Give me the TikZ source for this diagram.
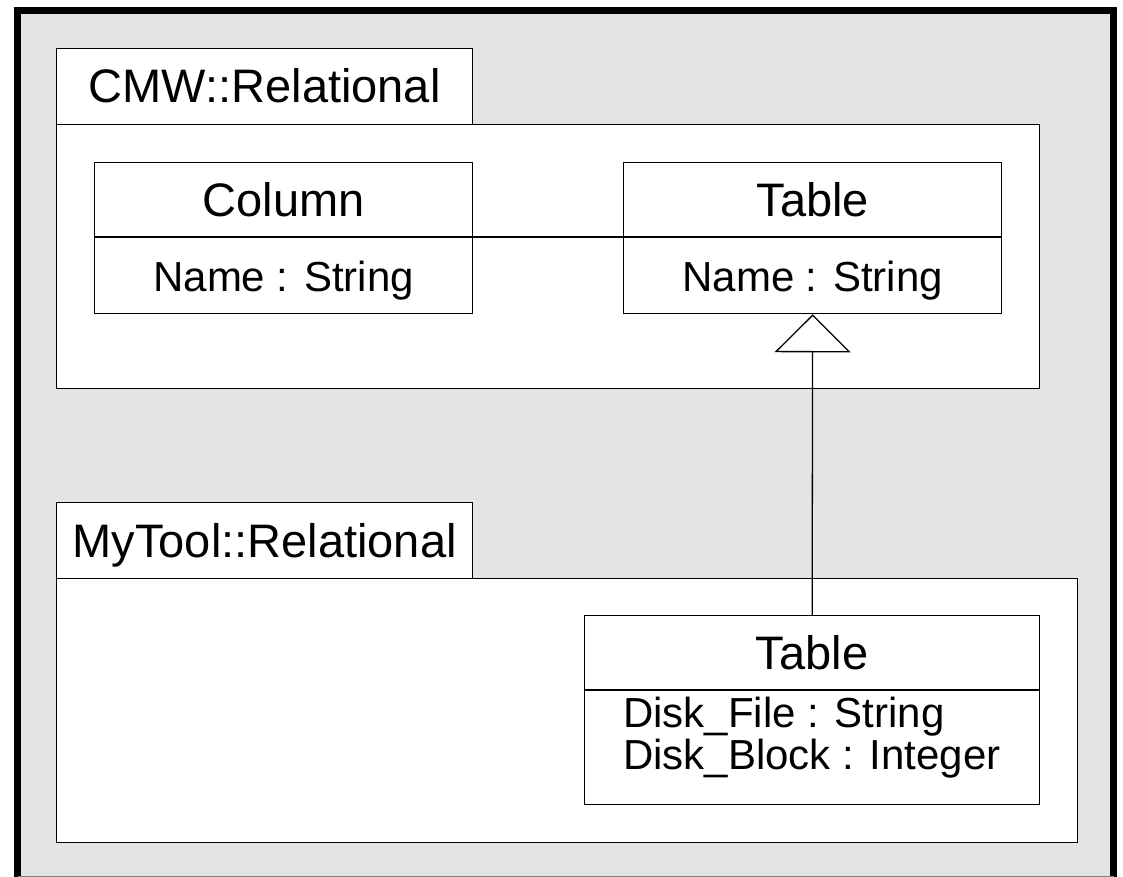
\documentclass[tikz,border=0pt]{standalone}
\usepackage{fontspec}
\setmainfont{Liberation Sans}
\usetikzlibrary{arrows.meta}
\definecolor{panelgray}{HTML}{E4E4E4}
\begin{document}
\begin{tikzpicture}[x=1pt,y=-1pt,
  frame/.style={draw=black, fill=white, line width=1.3pt, inner sep=0pt,
                anchor=north west},
  title/.style={font=\fontsize{47}{52}\selectfont, inner sep=0pt, anchor=base},
  member/.style={font=\fontsize{42}{42}\selectfont, inner sep=0pt, anchor=base},
  attr/.style={member, anchor=base west},
  rule/.style={line width=1.3pt},
  generalizes/.style={line width=1.3pt,
                      -{Triangle[open,length=38pt,width=76pt,line width=1.3pt]}}]
\useasboundingbox (0,0) rectangle (1123,877);

% background panel
\fill[panelgray] (17.5,10.5) rectangle (1113.5,877);
\draw[line width=7pt] (17.5,890) -- (17.5,10.5) -- (1113.5,10.5) -- (1113.5,890);
\draw[gray, line width=1pt] (17.5,876.5) -- (1113.5,876.5);

% package CMW::Relational
\node[frame, minimum width=983, minimum height=264] (cmwbody) at (56,124) {};
\node[frame, minimum width=416, minimum height=76] (cmwtab) at (56,48) {};
\node[title] (cmwname) at ([yshift=-55pt]cmwtab.north) {CMW::Relational};

% class Column
\node[frame, minimum width=378, minimum height=151] (column) at (94,162) {};
\draw[rule] ([yshift=-75pt]column.north west) coordinate (coldivw)
         -- ([yshift=-75pt]column.north east) coordinate (coldive);
\node[title] (coltitle) at ([yshift=-54.5pt]column.north) {Column};
\node[member] (colattr) at ([yshift=-129pt]column.north) {Name : String};

% class Table (CMW)
\node[frame, minimum width=378, minimum height=151] (basetable) at (623,162) {};
\draw[rule] ([yshift=-75pt]basetable.north west) coordinate (tbldivw)
         -- ([yshift=-75pt]basetable.north east) coordinate (tbldive);
\node[title] (tbltitle) at ([yshift=-54.5pt]basetable.north) {Table};
\node[member] (tblattr) at ([yshift=-129pt]basetable.north) {Name : String};

% association Column -- Table
\draw[rule] (coldive) -- (tbldivw);

% package MyTool::Relational
\node[frame, minimum width=1021, minimum height=264] (mybody) at (56,578) {};
\node[frame, minimum width=416, minimum height=76] (mytab) at (56,502) {};
\node[title] (myname) at ([yshift=-55pt]mytab.north) {MyTool::Relational};

% class Table (MyTool)
\node[frame, minimum width=455, minimum height=189] (subtable) at (584,615) {};
\draw[rule] ([yshift=-75pt]subtable.north west) -- ([yshift=-75pt]subtable.north east);
\node[title] (subtitle) at ([yshift=-54.5pt]subtable.north) {Table};
\node[attr] (subattra) at ([xshift=39pt,yshift=-112pt]subtable.north west) {Disk\_File : String};
\node[attr] (subattrb) at ([xshift=39pt,yshift=-154pt]subtable.north west) {Disk\_Block : Integer};

% generalization
\draw[generalizes] (subtable.north) -- (basetable.south);
\end{tikzpicture}
\end{document}
